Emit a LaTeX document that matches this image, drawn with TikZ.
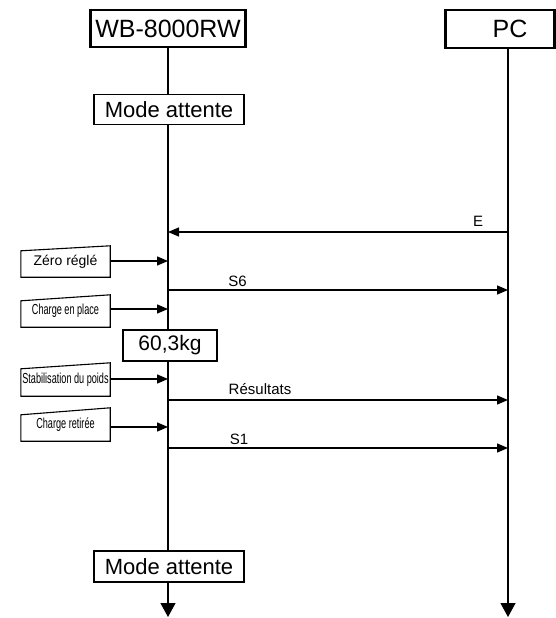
\documentclass[tikz,border=0pt]{standalone}
\usepackage{fontspec}
\setmainfont{Liberation Sans}
\usepackage{graphicx}
\usetikzlibrary{arrows.meta}
\tikzset{
  head/.style={draw, line width=2.4pt, fill=white, inner sep=0pt, font=\fontsize{25}{30}\selectfont},
  state/.style={draw, line width=1.1pt, fill=white, inner sep=0pt, font=\fontsize{22}{26}\selectfont},
  inbox/.style={inner sep=0pt, minimum width=89pt, font=\fontsize{14}{16}\selectfont},
  life/.style={line width=1.2pt},
  endarrow/.style={line width=1.2pt, -{Triangle[length=14pt,width=15pt]}},
  msg/.style={line width=1.4pt, -{Triangle[length=11pt,width=9pt]}},
  lbl/.style={inner sep=0pt, font=\fontsize{15}{18}\selectfont},
  manual/.style={line width=1.1pt, line join=miter}
}
\newcommand{\cond}[1]{{\fontsize{14.5}{17}\selectfont\scalebox{0.63}[1]{#1}}}
\begin{document}
\begin{tikzpicture}[x=1pt,y=-1pt]
\useasboundingbox (0,0) rectangle (556,618);
% lifeline end points
\coordinate (wbend) at (168,617);
\coordinate (pcend) at (508,617);
% headers
\node[head, minimum width=155pt, minimum height=37pt] (wb) at (168,28.5) {WB-8000RW};
\node[head, minimum width=109pt, minimum height=38pt] (pc) at (500,29) {\hspace*{20pt}PC};
% lifelines
\draw[life] (wb.south) -- (168,551);
\draw[endarrow] (168,582) -- (wbend);
\draw[endarrow] (pc.south -| pcend) -- (pcend);
% states on WB lifeline
\node[state, minimum width=150pt, minimum height=30pt] (mode1) at (169,109.5) {Mode attente};
\node[state, minimum width=94pt, minimum height=31pt] (kg) at (170,345.5) {\fontsize{21}{25}\selectfont 60,3kg};
\node[state, minimum width=150pt, minimum height=31pt] (mode2) at (169,566.5) {Mode attente};
% lifeline points for messages
\coordinate (wbE) at (168,232);
\coordinate (pcE) at (508,232);
\coordinate (wbS6) at (168,290);
\coordinate (pcS6) at (508,290);
\coordinate (wbR) at (168,400);
\coordinate (pcR) at (508,400);
\coordinate (wbS1) at (168,448);
\coordinate (pcS1) at (508,448);
\coordinate (w1) at (168,261);
\coordinate (w2) at (168,309);
\coordinate (w3) at (168,379);
\coordinate (w4) at (168,427);
% manual inputs
\node[inbox, minimum height=31pt] (zero) at (65.5,261.5) {\raisebox{-1pt}{Zéro réglé}};
\draw[manual] (zero.south west) -- (zero.south east) -- (zero.north east) -- ([yshift=-5pt]zero.north west) -- cycle;
\node[inbox, minimum height=32pt] (place) at (65.5,311) {\raisebox{-2pt}{\cond{Charge en place}}};
\draw[manual] (place.south west) -- (place.south east) -- (place.north east) -- ([yshift=-6pt]place.north west) -- cycle;
\node[inbox, minimum height=33pt] (stab) at (65.5,379.5) {\raisebox{-2pt}{\cond{Stabilisation du poids}}};
\draw[manual] (stab.south west) -- (stab.south east) -- (stab.north east) -- ([yshift=-6pt]stab.north west) -- cycle;
\node[inbox, minimum height=33pt] (ret) at (65.5,424.5) {\raisebox{-3pt}{\cond{Charge retirée}}};
\draw[manual] (ret.south west) -- (ret.south east) -- (ret.north east) -- ([yshift=-7pt]ret.north west) -- cycle;
% input arrows
\draw[msg] (zero.east |- w1) -- (w1);
\draw[msg] (place.east |- w2) -- (w2);
\draw[msg] (stab.east |- w3) -- (w3);
\draw[msg] (ret.east |- w4) -- (w4);
% messages
\draw[msg] (pcE) -- (wbE);
\node[lbl] (lE) at (478,221) {E};
\draw[msg] (wbS6) -- (pcS6);
\node[lbl] (lS6) at (237.5,281) {S6};
\draw[msg] (wbR) -- (pcR);
\node[lbl] (lR) at (260,389) {Résultats};
\draw[msg] (wbS1) -- (pcS1);
\node[lbl] (lS1) at (239,439) {S1};
\end{tikzpicture}
\end{document}
